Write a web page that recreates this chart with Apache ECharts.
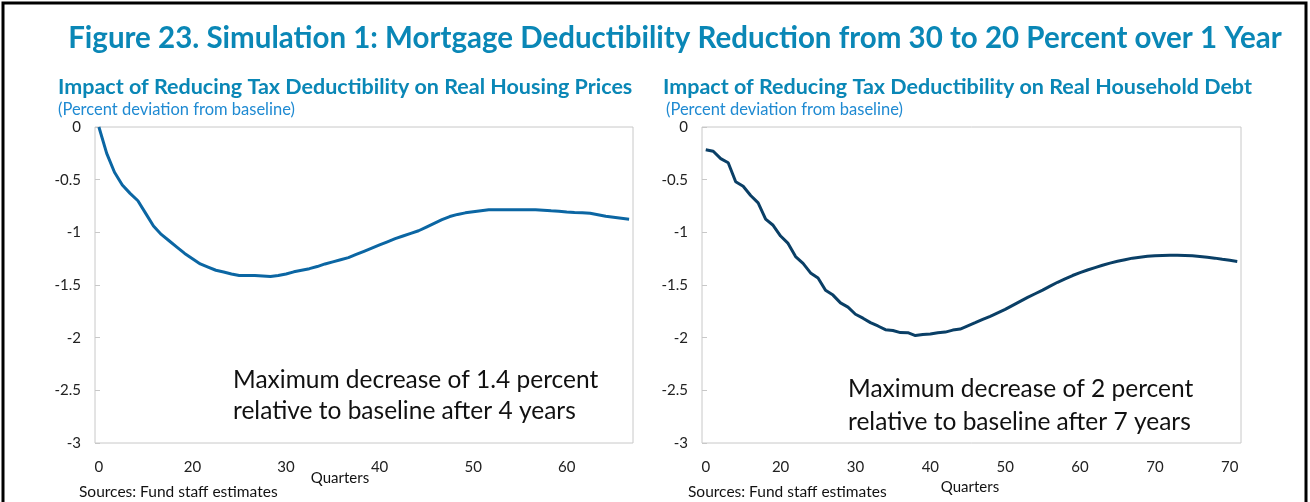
<!DOCTYPE html>
<html>
<head>
<meta charset="utf-8">
<script src="https://cdn.jsdelivr.net/npm/echarts@6/dist/echarts.min.js"></script>
<style>
  html, body { margin: 0; padding: 0; background: #fff; }
  #chart { width: 1310px; height: 502px; }
</style>
</head>
<body>
<div id="chart"></div>
<script>
// housing prices, percent deviation from baseline (69 quarters)
const housingPrices = [
  0, -0.25, -0.43, -0.55, -0.63, -0.7, -0.82, -0.94, -1.02, -1.08,
  -1.14, -1.2, -1.25, -1.3, -1.33, -1.36, -1.377, -1.395, -1.41, -1.41,
  -1.41, -1.415, -1.42, -1.41, -1.395, -1.375, -1.36, -1.345, -1.325, -1.3,
  -1.28, -1.26, -1.24, -1.21, -1.18, -1.15, -1.12, -1.09, -1.06, -1.035,
  -1.01, -0.985, -0.95, -0.915, -0.88, -0.85, -0.83, -0.815, -0.805, -0.795,
  -0.786, -0.785, -0.785, -0.785, -0.785, -0.785, -0.785, -0.79, -0.796, -0.8,
  -0.807, -0.812, -0.815, -0.818, -0.833, -0.848, -0.857, -0.866, -0.875
];

// household debt, percent deviation from baseline (72 quarters)
const householdDebt = [
  -0.216, -0.23, -0.3, -0.34, -0.52, -0.563, -0.65, -0.72, -0.875, -0.933,
  -1.035, -1.105, -1.23, -1.295, -1.385, -1.433, -1.55, -1.596, -1.67, -1.71,
  -1.778, -1.815, -1.857, -1.889, -1.924, -1.932, -1.952, -1.953, -1.98, -1.969,
  -1.966, -1.953, -1.947, -1.928, -1.918, -1.888, -1.858, -1.827, -1.797, -1.764,
  -1.731, -1.693, -1.655, -1.618, -1.583, -1.548, -1.51, -1.474, -1.442, -1.41,
  -1.382, -1.358, -1.335, -1.313, -1.292, -1.275, -1.26, -1.245, -1.236, -1.228,
  -1.222, -1.219, -1.217, -1.218, -1.22, -1.223, -1.23, -1.237, -1.245, -1.256,
  -1.266, -1.276
];

// tick labels as printed in the source (every 12th / 10th quarter)
const leftTickLabels = ["0", "20", "30", "40", "50", "60"];
const leftTickStep = 12;
const rightTickLabels = ["0", "20", "30", "40", "50", "60", "70", "70"];
const rightTickStep = 10;

const FONT = "Lato";
const TEAL = "#0a87b6";

const chart = echarts.init(document.getElementById("chart"), null, { renderer: "canvas" });

const xAxisFor = (gridIndex, values, labels, step) => {
  // keep repeated labels distinct so none get dropped
  const shown = labels.map((s, i) => (labels.indexOf(s) !== i ? s + "\u200B" : s));
  return {
    type: "category",
    gridIndex,
    boundaryGap: true,
    data: values.map((_, i) => String(i)),
    axisLine: { show: false },
    axisTick: { show: false },
    axisLabel: {
      interval: (idx) => idx % step === 0,
      hideOverlap: false,
      showMinLabel: true,
      showMaxLabel: true,
      margin: 17,
      fontFamily: FONT,
      fontSize: 15,
      color: "#222",
      formatter: (v, idx) => (idx % step === 0 ? shown[idx / step] || "" : ""),
    },
  };
};

const yAxisFor = (gridIndex) => ({
  type: "value",
  gridIndex,
  min: -3,
  max: 0,
  interval: 0.5,
  axisLine: { show: false },
  axisTick: { show: true, inside: true, length: 5, lineStyle: { color: "#c8c8c8" } },
  splitLine: { show: false },
  axisLabel: { margin: 14, fontFamily: FONT, fontSize: 15, color: "#222" },
});

const text = (x, y, str, style) => ({
  type: "text",
  x,
  y,
  style: Object.assign({ text: str, fontFamily: FONT, fill: "#111", textVerticalAlign: "middle" }, style),
});

chart.setOption({
  backgroundColor: "#fff",
  animation: false,
  grid: [
    { left: 95, top: 127, width: 538, height: 316, show: true, borderColor: "#c8c8c8", borderWidth: 1 },
    { left: 702, top: 127, width: 539, height: 316, show: true, borderColor: "#c8c8c8", borderWidth: 1 },
  ],
  xAxis: [
    xAxisFor(0, housingPrices, leftTickLabels, leftTickStep),
    xAxisFor(1, householdDebt, rightTickLabels, rightTickStep),
  ],
  yAxis: [yAxisFor(0), yAxisFor(1)],
  series: [
    {
      type: "line",
      xAxisIndex: 0,
      yAxisIndex: 0,
      data: housingPrices,
      showSymbol: false,
      lineStyle: { color: "#0b66a3", width: 3 },
    },
    {
      type: "line",
      xAxisIndex: 1,
      yAxisIndex: 1,
      data: householdDebt,
      showSymbol: false,
      lineStyle: { color: "#0a3f66", width: 3 },
    },
  ],
  graphic: [
    {
      type: "rect",
      shape: { x: 3, y: 3, width: 1303, height: 520 },
      style: { fill: "none", stroke: "#000", lineWidth: 3 },
    },
    text(675, 38, "Figure 23. Simulation 1: Mortgage Deductibility Reduction from 30 to 20 Percent over 1 Year",
      { fontSize: 29.5, fontWeight: "bold", fill: TEAL, textAlign: "center" }),
    text(58, 87, "Impact of Reducing Tax Deductibility on Real Housing Prices",
      { fontSize: 21.5, fontWeight: "bold", fill: TEAL }),
    text(58, 110, "(Percent deviation from baseline)", { fontSize: 16.5, fill: "#1f8ad2" }),
    text(663, 87, "Impact of Reducing Tax Deductibility on Real Household Debt",
      { fontSize: 21.5, fontWeight: "bold", fill: TEAL }),
    text(666, 110, "(Percent deviation from baseline)", { fontSize: 16.5, fill: "#1f8ad2" }),
    text(233, 380, "Maximum decrease of 1.4 percent", { fontSize: 24.5 }),
    text(233, 411, "relative to baseline after 4 years", { fontSize: 24.5 }),
    text(848, 389, "Maximum decrease of 2 percent", { fontSize: 24.5 }),
    text(848, 422, "relative to baseline after 7 years", { fontSize: 24.5 }),
    text(340, 478, "Quarters", { fontSize: 15, textAlign: "center" }),
    text(970, 487, "Quarters", { fontSize: 15, textAlign: "center" }),
    text(79, 492, "Sources: Fund staff estimates", { fontSize: 15.5 }),
    text(688, 492, "Sources: Fund staff estimates", { fontSize: 15.5 }),
  ],
});
</script>
</body>
</html>
